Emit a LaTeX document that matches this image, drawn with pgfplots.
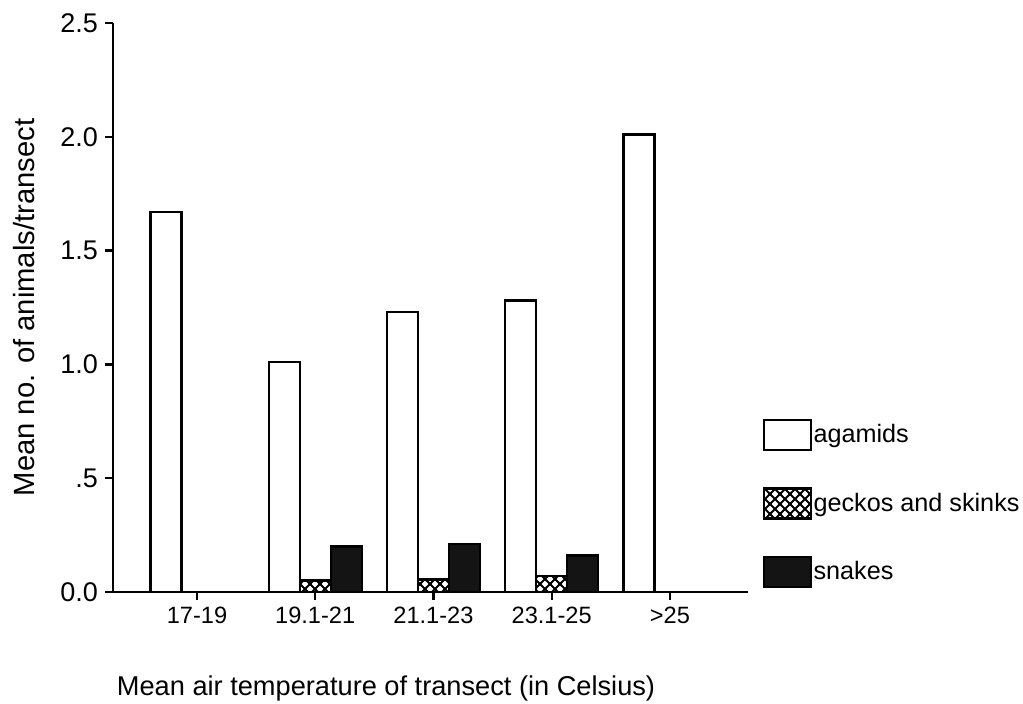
\documentclass[border=0pt]{standalone}
\usepackage{pgfplots}
\pgfplotsset{compat=1.18}
\usepackage{fontspec}
\setmainfont{Liberation Sans}
\usetikzlibrary{patterns}
\pgfdeclarepatternformonly{diamonds}{\pgfpoint{-1pt}{-1pt}}{\pgfpoint{6pt}{6pt}}{\pgfpoint{5pt}{5pt}}{%
  \pgfsetlinewidth{0.9pt}%
  \pgfpathmoveto{\pgfpoint{-0.5pt}{-0.5pt}}\pgfpathlineto{\pgfpoint{5.5pt}{5.5pt}}%
  \pgfpathmoveto{\pgfpoint{-0.5pt}{5.5pt}}\pgfpathlineto{\pgfpoint{5.5pt}{-0.5pt}}%
  \pgfusepath{stroke}}
\begin{document}
\begin{tikzpicture}
\begin{axis}[
  name=ax,
  scale only axis,
  width=317.5pt, height=284.5pt,
  xmin=-0.71, xmax=4.66,
  ymin=0, ymax=2.5,
  axis x line*=bottom, axis y line*=left,
  axis line style={line width=1.3pt},
  tick align=outside,
  major tick length=4pt,
  tick style={line width=1.2pt, black},
  xtick={0,1,2,3,4},
  xticklabels={17-19,19.1-21,21.1-23,23.1-25,>25},
  ytick={0,0.5,1,1.5,2,2.5},
  yticklabels={0.0,.5,1.0,1.5,2.0,2.5},
  x tick label style={font=\fontsize{11.8}{13}\selectfont},
  y tick label style={font=\fontsize{13.5}{15}\selectfont},
  ybar=0pt,
  bar width=15.5pt,
  xlabel={Mean air temperature of transect (in Celsius)},
  xlabel style={at={(axis description cs:0.43,0)}, anchor=center, yshift=-48pt, font=\fontsize{13.6}{16}\selectfont},
  ylabel={Mean no. of animals/transect},
  ylabel style={at={(axis description cs:-0.14,0.5)}, anchor=center, font=\fontsize{14.6}{17}\selectfont},
  legend style={at={(axis description cs:1.0236,0.304)}, anchor=north west, draw=none, fill=none,
    inner sep=0pt, outer sep=0pt, row sep=18pt, column sep=0pt,
    nodes={inner sep=0.6pt, anchor=west}, font=\fontsize{12.6}{15}\selectfont},
  legend cell align=left,
  legend image code/.code={\draw[#1, line width=1.2pt] (0pt,-7.5pt) rectangle (23.5pt,7.5pt);},
]
\addplot[draw=black, fill=white, line width=1.2pt] coordinates {(0,1.67) (1,1.01) (2,1.23) (3,1.28) (4,2.01)};
\addplot[draw=black, pattern=diamonds, line width=1.2pt] coordinates {(1,0.05) (2,0.055) (3,0.07)};
\addplot[draw=black, fill=black!92, line width=1.2pt] coordinates {(1,0.2) (2,0.21) (3,0.16)};
\legend{agamids, geckos and skinks, snakes}
\end{axis}
\pgfresetboundingbox
\path ([shift={(-56.5pt,-56pt)}]ax.south west) rectangle ([shift={(455pt,296pt)}]ax.south west);
\end{tikzpicture}
\end{document}
